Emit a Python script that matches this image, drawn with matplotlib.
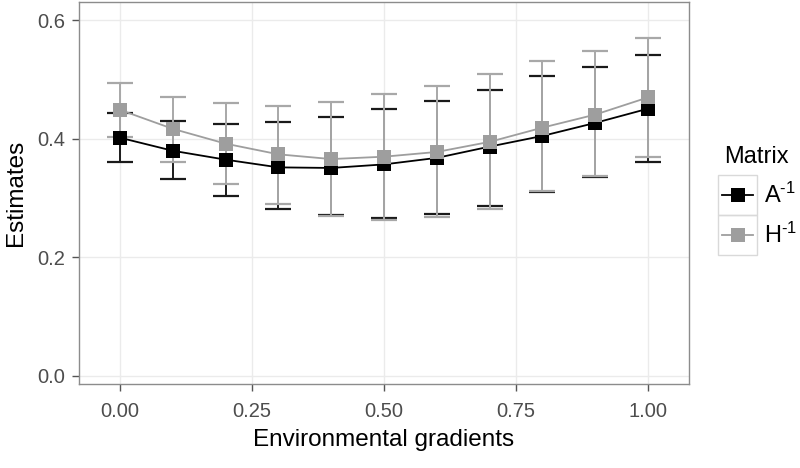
import matplotlib
matplotlib.use('Agg')
import matplotlib.pyplot as plt
from matplotlib.lines import Line2D
from matplotlib.patches import Rectangle

plt.rcParams['font.family'] = ['Liberation Sans', 'DejaVu Sans']
plt.rcParams['mathtext.default'] = 'regular'

# Data
gradients = [0.0, 0.1, 0.2, 0.3, 0.4, 0.5, 0.6, 0.7, 0.8, 0.9, 1.0]

a_est = [0.402, 0.380, 0.365, 0.352, 0.351, 0.357, 0.368, 0.387, 0.405, 0.427, 0.451]
a_upper = [0.444, 0.430, 0.426, 0.428, 0.437, 0.450, 0.464, 0.482, 0.506, 0.522, 0.542]
a_lower = [0.361, 0.332, 0.304, 0.281, 0.272, 0.267, 0.273, 0.287, 0.310, 0.336, 0.361]

h_est = [0.449, 0.417, 0.392, 0.374, 0.366, 0.370, 0.378, 0.395, 0.419, 0.441, 0.470]
h_upper = [0.494, 0.471, 0.460, 0.455, 0.462, 0.476, 0.490, 0.510, 0.531, 0.549, 0.571]
h_lower = [0.404, 0.361, 0.324, 0.290, 0.270, 0.264, 0.268, 0.281, 0.312, 0.337, 0.370]

x_ticks = [0.0, 0.25, 0.5, 0.75, 1.0]
x_ticklabels = ['0.00', '0.25', '0.50', '0.75', '1.00']
y_ticks = [0.0, 0.2, 0.4, 0.6]
y_ticklabels = ['0.0', '0.2', '0.4', '0.6']

series_labels = ['A$^{\u20101}$', 'H$^{\u20101}$']
dark = '#000000'
light = '#9e9e9e'

W, H = 800, 468
fig = plt.figure(figsize=(W / 100, H / 100), dpi=100)
ax = fig.add_axes([79 / W, 1 - 384 / H, 610 / W, 382 / H])

# error bars
for est, lo, hi, col in [(a_est, a_lower, a_upper, '#1a1a1a'), (h_est, h_lower, h_upper, '#a8a8a8')]:
    yerr = [[e - l for e, l in zip(est, lo)], [h - e for e, h in zip(est, hi)]]
    ax.errorbar(gradients, est, yerr=yerr, fmt='none', ecolor=col, elinewidth=1.4,
                capsize=9.7, capthick=1.6, zorder=2)

# lines and points
ax.plot(gradients, a_est, color=dark, lw=1.3, zorder=3)
ax.plot(gradients, h_est, color=light, lw=1.3, zorder=3)
ax.plot(gradients, a_est, 's', color=dark, ms=10.5, mew=0, zorder=4)
ax.plot(gradients, h_est, 's', color=light, ms=10.5, mew=0, zorder=5)

ax.set_xlim(-0.0777, 1.0777)
ax.set_ylim(-0.0135, 0.631)
ax.set_xticks(x_ticks)
ax.set_xticklabels(x_ticklabels)
ax.set_yticks(y_ticks)
ax.set_yticklabels(y_ticklabels)
ax.grid(True, color='#ebebeb', lw=1.0, zorder=0)
ax.set_axisbelow(True)
ax.tick_params(direction='out', length=5, width=1, color='#555555',
               labelsize=14.5, labelcolor='#4d4d4d')
ax.tick_params(axis='x', pad=8)
ax.tick_params(axis='y', pad=5)
for sp in ax.spines.values():
    sp.set_color('#8c8c8c')
    sp.set_linewidth(1.0)

ax.set_xlabel('Environmental gradients', fontsize=17.5, labelpad=6)
ax.set_ylabel('Estimates', fontsize=17.5, labelpad=7)

# legend drawn by hand in figure pixel space
def fx(px):
    return px / W

def fy(py):
    return 1 - py / H

fig.text(fx(724), fy(157), 'Matrix', fontsize=17, va='center', ha='left')
for i, (lab, col) in enumerate(zip(series_labels, [dark, light])):
    top = 175 + i * 40
    fig.patches.append(Rectangle((fx(718), fy(top + 40)), 39 / W, 40 / H,
                                 transform=fig.transFigure, fill=False,
                                 edgecolor='#d9d9d9', lw=1.0))
    cy = fy(top + 20)
    fig.lines.append(Line2D([fx(722), fx(753)], [cy, cy], transform=fig.transFigure,
                            color=col, lw=1.3))
    fig.lines.append(Line2D([fx(737.5)], [cy], transform=fig.transFigure, marker='s',
                            color=col, ms=10.5, mew=0))
    fig.text(fx(764), cy, lab, fontsize=17, va='center', ha='left')

fig.savefig('out.png', dpi=100)
